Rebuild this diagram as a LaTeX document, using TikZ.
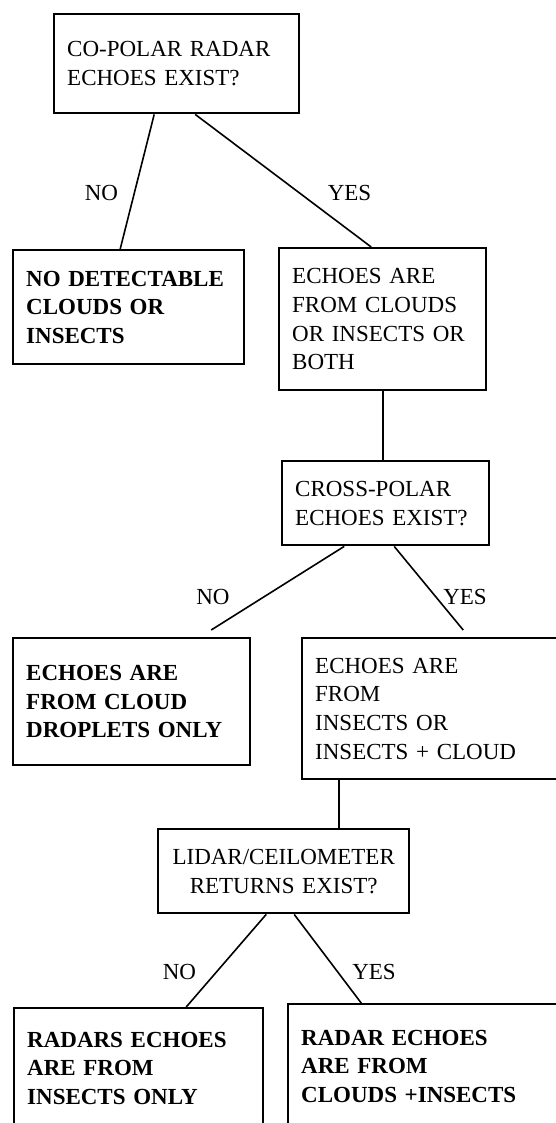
\documentclass[tikz,border=0pt]{standalone}
\usepackage{fontspec}
\setmainfont{Liberation Serif}
\usepackage{tikz}

\begin{document}
\begin{tikzpicture}[x=1pt, y=-1pt,
        box/.style={draw, line width=2.4pt, anchor=north west, inner xsep=13pt, inner ysep=0pt, align=left, font=\fontsize{23}{28.7}\selectfont},
        endbox/.style={box, font=\fontsize{23}{28.7}\selectfont\bfseries},
        lbl/.style={font=\fontsize{23}{28.7}\selectfont, inner sep=0pt},
        link/.style={line width=1.6pt}]
        \useasboundingbox (0,0) rectangle (556,1123);
        \clip (0,0) rectangle (556,1123);

        \node[box, text width=219pt, minimum height=99pt] (q1) at (53,13) {CO-POLAR RADAR\\ECHOES EXIST?};
        \node[endbox, text width=205pt, minimum height=114pt] (nodet) at (12,249) {NO DETECTABLE\\CLOUDS OR\\INSECTS};
        \node[box, text width=181pt, minimum height=142pt] (ech1) at (278,247) {ECHOES ARE\\FROM CLOUDS\\OR INSECTS OR\\BOTH};

        \node[box, text width=181pt, minimum height=84pt] (q2) at (281,460) {CROSS-POLAR\\ECHOES EXIST?};
        \node[endbox, text width=211pt, minimum height=127pt] (drop) at (12,637) {ECHOES ARE\\FROM CLOUD\\DROPLETS ONLY};
        \node[box, text width=233pt, minimum height=141pt] (insc) at (301,637) {ECHOES ARE\\FROM\\INSECTS OR\\INSECTS + CLOUD};

        \node[box, align=center, text width=225pt, minimum height=84pt] (q3) at (157,828) {LIDAR/CEILOMETER\\RETURNS EXIST?};
        \node[endbox, text width=223pt, minimum height=120pt] (ins) at (13,1007) {RADARS ECHOES\\ARE FROM\\INSECTS ONLY};
        \node[endbox, text width=257pt, minimum height=124pt] (cldins) at (287,1003) {RADAR ECHOES\\ARE FROM\\CLOUDS +INSECTS};

        \draw[link] ([xshift=-22.5pt]q1.south) -- ([xshift=-8.5pt]nodet.north);
        \draw[link] ([xshift=18.5pt]q1.south) -- ([xshift=-11.5pt]ech1.north);
        \node[lbl] (no1) at (101.5,193) {NO};
        \node[lbl] (yes1) at (349.5,193) {YES};

        \draw[link] (ech1.south) -- (ech1.south |- q2.north);

        \draw[link] ([xshift=-41.5pt]q2.south) -- ([xshift=79.5pt, yshift=7pt]drop.north);
        \draw[link] ([xshift=8.5pt]q2.south) -- ([xshift=31.5pt, yshift=7pt]insc.north);
        \node[lbl] (no2) at (213,597) {NO};
        \node[lbl] (yes2) at (465,597) {YES};

        \draw[link] ([xshift=-92.5pt]insc.south) -- ([xshift=-92.5pt]insc.south |- q3.north);

        \draw[link] ([xshift=-17.5pt]q3.south) -- ([xshift=47.5pt]ins.north);
        \draw[link] ([xshift=10.5pt]q3.south) -- ([xshift=-68.5pt]cldins.north);
        \node[lbl] (no3) at (179.5,972) {NO};
        \node[lbl] (yes3) at (374,972) {YES};
\end{tikzpicture}
\end{document}
